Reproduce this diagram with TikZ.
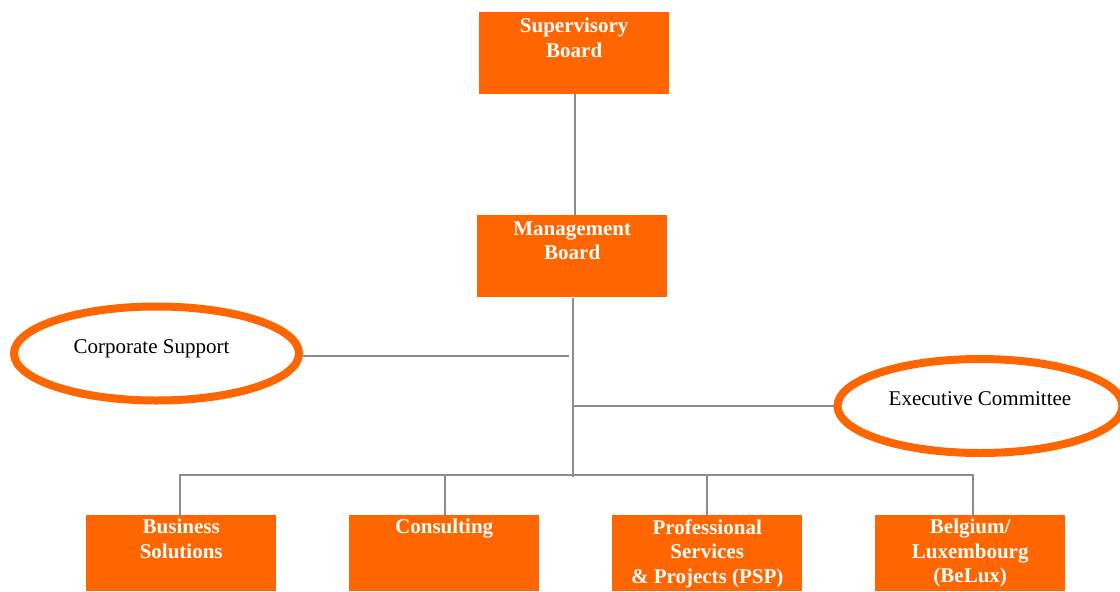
\documentclass[tikz,border=0pt]{standalone}
\usepackage{fontspec}
\setmainfont{Liberation Serif}
\usetikzlibrary{shapes.geometric}
\definecolor{brandorange}{HTML}{FF6600}
\definecolor{linkgray}{HTML}{8C8C8C}
\begin{document}
\begin{tikzpicture}[x=1pt,y=-1pt,
  unitbox/.style={fill=brandorange, draw=none, inner sep=0, anchor=north west,
    minimum width=190pt, minimum height=#1},
  unitbox/.default=82pt,
  boxtext/.style={text=white, font=\fontsize{21}{24.5}\selectfont\bfseries,
    align=center, inner sep=0, anchor=north},
  staffoval/.style={ellipse, draw=brandorange, line width=8pt, fill=white,
    inner sep=0, minimum width=285pt, minimum height=94pt},
  ovaltext/.style={font=\fontsize{21}{24}\selectfont, inner sep=0, anchor=base},
  link/.style={draw=linkgray, line width=2pt}
]
\useasboundingbox (0,0) rectangle (1120,592);

% board level
\node[unitbox] (sup) at (479,12) {};
\node[unitbox] (mgt) at (477,215) {};
\node[boxtext] (suptxt) at ([yshift=-6.2pt]sup.north) {Supervisory\\Board};
\node[boxtext] (mgttxt) at ([yshift=-6.2pt]mgt.north) {Management\\Board};

% staff functions
\node[staffoval] (cs) at (156.5,353.5) {};
\node[ovaltext] (cstxt) at (151.5,353.5) {Corporate Support};
\node[staffoval] (ec) at (980,406) {};
\node[ovaltext] (ectxt) at (980,405.5) {Executive Committee};

% business units
\node[unitbox=76pt] (bs) at (86,515) {};
\node[unitbox=76pt] (con) at (349,515) {};
\node[unitbox=76pt] (psp) at (612,515) {};
\node[unitbox=76pt] (bel) at (875,515) {};
\node[boxtext] (bstxt) at ([yshift=-4.2pt]bs.north) {Business\\Solutions};
\node[boxtext] (contxt) at ([yshift=-4.2pt]con.north) {Consulting};
\node[boxtext] (psptxt) at ([yshift=-4.2pt]psp.north) {Professional\\Services\\\& Projects (PSP)};
\node[boxtext] (beltxt) at ([yshift=-4.2pt]bel.north) {Belgium/\\Luxembourg\\(BeLux)};

% junction points of the connector tree
\coordinate (supfoot) at (575,94);
\coordinate (mgthead) at (575,215);
\coordinate (spine) at (573,298);
\coordinate (spineend) at (573,477);
\coordinate (csjoin) at (569,356);
\coordinate (ecjoin) at (573,406);
\coordinate (busl) at (180,475);
\coordinate (busr) at (973,475);

% connectors
\draw[link] (supfoot) -- (mgthead);
\draw[link] (spine) -- (spineend);
\draw[link] (cs.east |- csjoin) -- (csjoin);
\draw[link] (ecjoin) -- (ec.west |- ecjoin);
\draw[link] (bs.north -| busl) -- (busl) -- (busr) -- (bel.north -| busr);
\draw[link] (con.north -| 445,0) -- (445,475);
\draw[link] (psp.north -| 707,0) -- (707,475);
\end{tikzpicture}
\end{document}
